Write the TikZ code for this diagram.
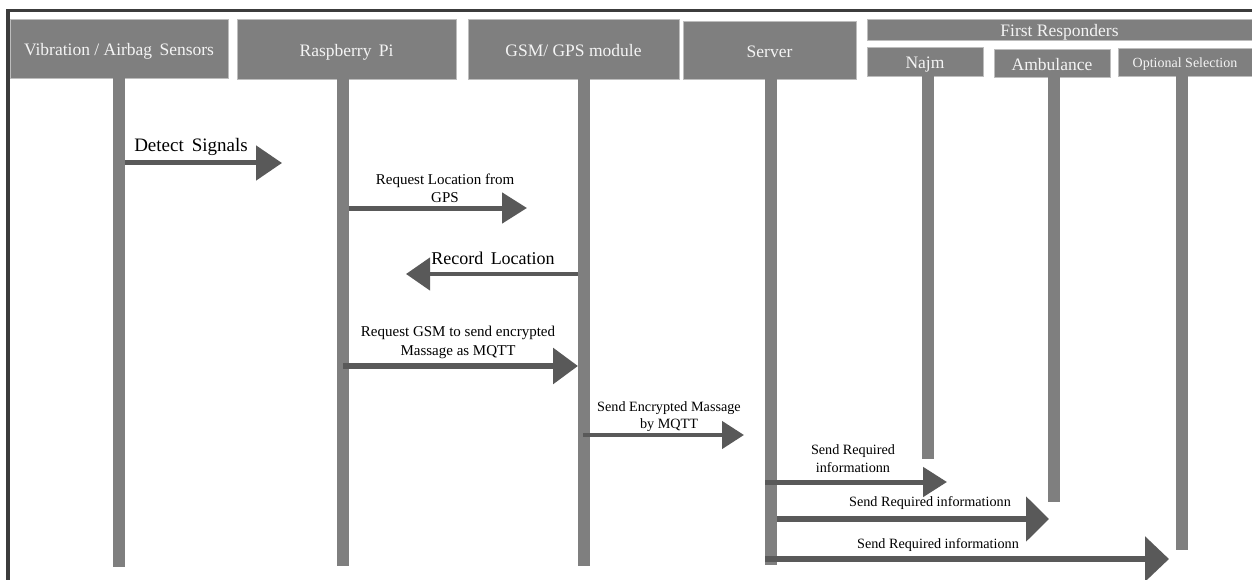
\documentclass[tikz,border=0pt]{standalone}
\usepackage{fontspec}
\setmainfont{Liberation Serif}
\usetikzlibrary{arrows.meta}
\definecolor{boxgray}{HTML}{7F7F7F}
\definecolor{boxedge}{HTML}{BDBDBD}
\definecolor{boxtext}{HTML}{F4F4F4}
\definecolor{msggray}{HTML}{595959}
\definecolor{framegray}{HTML}{3C3C3C}
\tikzset{
  actor/.style={fill=boxgray, draw=boxedge, line width=0.8pt, text=boxtext,
    inner sep=0pt, text height=14.6pt, text depth=0pt,
    font=\fontsize{17.5}{20}\selectfont},
  smallactor/.style={actor, text height=11.3pt, font=\fontsize{14}{16}\selectfont},
  life/.style={draw=boxgray, line width=12pt},
  msg/.style={draw=msggray, fill=msggray},
  msglabel/.style={inner sep=0pt, align=center, text=black},
  biglabel/.style={msglabel, font=\fontsize{18}{20}\selectfont},
  midlabel/.style={msglabel, font=\fontsize{15}{18.5}\selectfont},
  smalllabel/.style={msglabel, font=\fontsize{14.2}{17.5}\selectfont},
}
\begin{document}
\begin{tikzpicture}[x=1pt, y=-1pt]
\useasboundingbox (0,0) rectangle (1252,580);

% frame lines along the top and the left side
\draw[framegray, line width=3pt] (6,10.7) -- (1252,10.7);
\draw[framegray, line width=3.5pt] (8,9.2) -- (8,580);

% participants
\node[actor, minimum width=218pt, minimum height=59pt] (vib) at (119,48.5) {Vibration / Airbag\, Sensors};
\node[actor, minimum width=219pt, minimum height=60pt] (rpi) at (346.5,49) {Raspberry\, Pi};
\node[actor, minimum width=211pt, minimum height=60pt] (gsm) at (573.5,49) {GSM/ GPS module};
\node[actor, minimum width=173pt, minimum height=58pt] (srv) at (769.5,50) {Server};
\node[actor, minimum width=385pt, minimum height=21pt] (fr) at (1059.5,29.5) {First Responders};
\node[actor, minimum width=116pt, minimum height=29pt] (najm) at (925,61.5) {Najm};
\node[actor, minimum width=116pt, minimum height=28pt] (amb) at (1052,63) {Ambulance};
\node[smallactor, minimum width=134pt, minimum height=28pt] (opt) at (1185,62) {Optional Selection};

% lifeline ends
\coordinate (vibend) at (119,567);
\coordinate (rpiend) at (342.5,566);
\coordinate (gsmend) at (584,566);
\coordinate (srvend) at (771,565);
\coordinate (najmend) at (928,459);
\coordinate (ambend) at (1054,502);
\coordinate (optend) at (1182,550);

% lifelines
\draw[life] (vibend |- vib.south) -- (vibend);
\draw[life] (rpiend |- rpi.south) -- (rpiend);
\draw[life] (gsmend |- gsm.south) -- (gsmend);
\draw[life] (srvend |- srv.south) -- (srvend);
\draw[life] (najmend |- najm.south) -- (najmend);
\draw[life] (ambend |- amb.south) -- (ambend);
\draw[life] (optend |- opt.south) -- (optend);

% message end points
\coordinate (m1s) at (125,163);   \coordinate (m1e) at (282,163);
\coordinate (m2s) at (349,208);   \coordinate (m2e) at (527,208);
\coordinate (m3s) at (578,274);   \coordinate (m3e) at (406,274);
\coordinate (m4s) at (343,366);   \coordinate (m4e) at (578,366);
\coordinate (m5s) at (583,435);   \coordinate (m5e) at (744,435);
\coordinate (m6s) at (765,482);   \coordinate (m6e) at (947,482);
\coordinate (m7s) at (777,519);   \coordinate (m7e) at (1049,519);
\coordinate (m8s) at (765,559);   \coordinate (m8e) at (1169,559);

% messages
\draw[msg, line width=5pt, -{Triangle[length=26pt,width=34pt]}] (m1s) -- (m1e);
\draw[msg, line width=5pt, -{Triangle[length=25pt,width=30pt]}] (m2s) -- (m2e);
\draw[msg, line width=4.5pt, -{Triangle[length=24pt,width=32pt]}] (m3s) -- (m3e);
\draw[msg, line width=6pt, -{Triangle[length=25pt,width=35pt]}] (m4s) -- (m4e);
\draw[msg, line width=4.5pt, -{Triangle[length=22pt,width=27pt]}] (m5s) -- (m5e);
\draw[msg, line width=5pt, -{Triangle[length=24pt,width=29pt]}] (m6s) -- (m6e);
\draw[msg, line width=6.5pt, -{Triangle[length=23pt,width=44pt]}] (m7s) -- (m7e);
\draw[msg, line width=6.5pt, -{Triangle[length=24pt,width=44pt]}] (m8s) -- (m8e);

% message labels
\node[biglabel, font=\fontsize{19}{21}\selectfont] (l1) at (191,147) {Detect\, Signals};
\node[midlabel] (l2) at (445,188.5) {Request Location from\\GPS};
\node[biglabel] (l3) at (493,258) {Record\, Location};
\node[midlabel] (l4) at (458,342.5) {Request GSM to send encrypted\\Massage as MQTT};
\node[smalllabel] (l5) at (669,416.5) {Send Encrypted Massage\\by MQTT};
\node[smalllabel] (l6) at (853,458.5) {Send Required\\informationn};
\node[smalllabel] (l7) at (930,503) {Send Required informationn};
\node[smalllabel] (l8) at (938,545) {Send Required informationn};
\end{tikzpicture}
\end{document}
